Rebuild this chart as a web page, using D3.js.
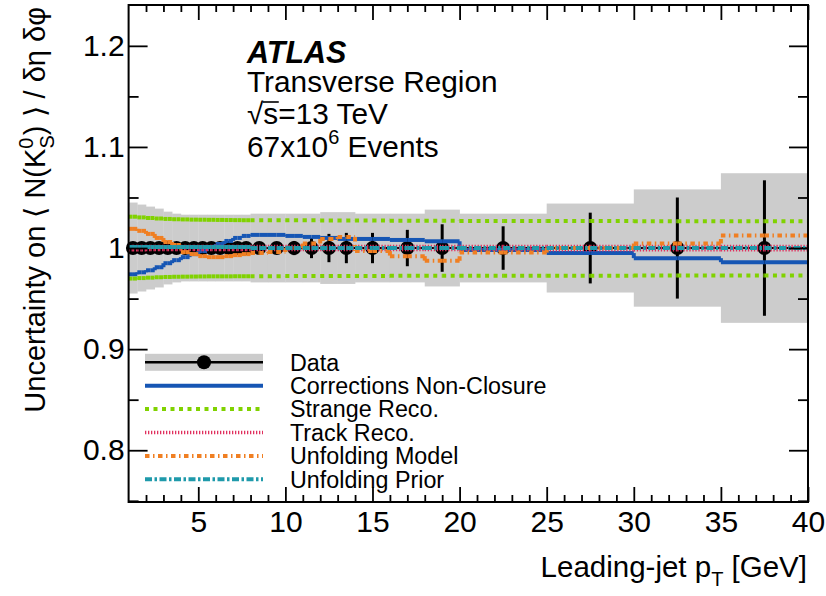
<!DOCTYPE html>
<html>
<head>
<meta charset="utf-8">
<script src="https://d3js.org/d3.v7.min.js"></script>
<style>
  html, body { margin: 0; padding: 0; background: #fff; }
  svg { display: block; }
  text { font-family: "Liberation Sans", Arial, Helvetica, sans-serif; fill: #000; }
</style>
</head>
<body>
<svg id="chart" width="826" height="596"></svg>
<script>
// ---------------- data ----------------
const binEdges = [1, 1.5, 2, 2.5, 3, 3.5, 4, 4.5, 5, 5.5, 6, 6.5, 7, 7.5, 8, 9, 10, 11, 12, 13, 14, 16, 18, 20, 25, 30, 35, 40];
const dataValues = [1, 1, 1, 1, 1, 1, 1, 1, 1, 1, 1, 1, 1, 1, 1, 1, 1, 1, 1, 1, 1, 1, 1, 1, 1, 1, 1];
const statErrors = [0.002, 0.002, 0.002, 0.002, 0.002, 0.002, 0.002, 0.002, 0.002, 0.002, 0.002, 0.002, 0.003, 0.003,
                    0.004, 0.005, 0.007, 0.010, 0.014, 0.015, 0.015, 0.018, 0.0235, 0.0215, 0.035, 0.050, 0.067];
const totalUncertainty = [0.045, 0.043, 0.041, 0.039, 0.036, 0.034, 0.033, 0.033, 0.033, 0.033, 0.033, 0.033, 0.033, 0.033,
                          0.034, 0.034, 0.034, 0.034, 0.0355, 0.0355, 0.034, 0.034, 0.038, 0.034, 0.044, 0.058, 0.074];
const correctionsNonClosure = [0.974, 0.976, 0.978, 0.981, 0.985, 0.988, 0.991, 0.994, 0.997, 1.001, 1.004, 1.007, 1.010, 1.012,
                               1.013, 1.013, 1.012, 1.011, 1.010, 1.009, 1.009, 1.008, 1.0067, 0.998, 0.995, 0.990, 0.986];
const strangeRecoUp = [1.031, 1.0303, 1.0297, 1.0292, 1.0288, 1.0285, 1.0283, 1.0281, 1.028, 1.0279, 1.0278, 1.0277, 1.0276, 1.0275,
                       1.0275, 1.0275, 1.0274, 1.0274, 1.0273, 1.0273, 1.0272, 1.0271, 1.027, 1.0268, 1.0267, 1.0266, 1.0265];
const strangeRecoDown = [0.9698, 0.9703, 0.9707, 0.9711, 0.9714, 0.9716, 0.9717, 0.9718, 0.9719, 0.972, 0.972, 0.972, 0.9721, 0.9721,
                         0.9722, 0.9722, 0.9723, 0.9723, 0.9723, 0.9724, 0.9724, 0.9725, 0.9725, 0.9726, 0.9727, 0.9728, 0.9729];
const trackRecoUp = [1.0016, 1.0016, 1.0015, 1.0015, 1.0015, 1.0015, 1.0015, 1.0015, 1.0015, 1.0015, 1.0015, 1.0015, 1.0015, 1.0015,
                     1.0015, 1.0015, 1.0015, 1.0015, 1.0015, 1.0015, 1.0015, 1.0015, 1.0015, 1.0015, 1.0016, 1.0016, 1.0016];
const trackRecoDown = [0.9984, 0.9984, 0.9985, 0.9985, 0.9985, 0.9985, 0.9985, 0.9985, 0.9985, 0.9985, 0.9985, 0.9985, 0.9985, 0.9985,
                       0.9985, 0.9985, 0.9985, 0.9985, 0.9985, 0.9985, 0.9985, 0.9985, 0.9985, 0.9985, 0.9984, 0.9984, 0.9984];
const unfoldingModel = [1.019, 1.017, 1.014, 1.010, 1.006, 1.003, 0.996, 0.994, 0.992, 0.991, 0.991, 0.992, 0.993, 0.994,
                        0.995, 0.996, 1.000, 1.0045, 1.009, 1.011, 0.997, 0.992, 0.9875, 0.9955, 1.000, 1.0045, 1.0125];
const unfoldingPrior = [1.001, 1.001, 1.001, 1.001, 1.001, 1.001, 1.001, 1.001, 1.001, 1.001, 1.001, 1.001, 1.001, 1.001,
                        1.000, 1.000, 1.000, 1.000, 1.000, 1.000, 1.000, 1.000, 1.000, 1.000, 1.000, 1.000, 1.000];

const xMajorTicks = [5, 10, 15, 20, 25, 30, 35, 40];
const xMinorTicks = [2, 3, 4, 6, 7, 8, 9, 11, 12, 13, 14, 16, 17, 18, 19, 21, 22, 23, 24, 26, 27, 28, 29, 31, 32, 33, 34, 36, 37, 38, 39];
const yMajorTicks = [0.8, 0.9, 1.0, 1.1, 1.2];
const yMinorTicks = [0.75, 0.85, 0.95, 1.05, 1.15];
const yTickLabels = ["0.8", "0.9", "1", "1.1", "1.2"];

const legendLabels = ["Data", "Corrections Non-Closure", "Strange Reco.", "Track Reco.", "Unfolding Model", "Unfolding Prior"];

// ---------------- layout ----------------
const svg = d3.select("#chart");
const L = 128.6, R = 808, T = 5, B = 502;
const x = d3.scaleLinear().domain([1, 40]).range([L, R]);
const y = d3.scaleLinear().domain([0.7488, 1.2404]).range([B, T]);

const COL = {
  band: "#cccccc",
  blue: "#1656b4",
  green: "#80d200",
  crimson: "#e0305e",
  orange: "#f07f22",
  teal: "#1f9aab"
};

const styles = {
  blue:    { stroke: COL.blue,    width: 4, dash: null },
  green:   { stroke: COL.green,   width: 4, dash: "4,4.5" },
  crimson: { stroke: COL.crimson, width: 3.5, dash: "1.3,1.7" },
  orange:  { stroke: COL.orange,  width: 4, dash: "4.5,3.5,1.5,3.5" },
  teal:    { stroke: COL.teal,    width: 4, dash: "7,2.5,2.5,2.5" }
};

const bins = dataValues.map((v, i) => ({
  lo: binEdges[i], hi: binEdges[i + 1], c: (binEdges[i] + binEdges[i + 1]) / 2,
  v: v, stat: statErrors[i], tot: totalUncertainty[i]
}));

const plot = svg.append("g");

// grey total-uncertainty band
plot.selectAll("rect.band").data(bins).join("rect")
  .attr("class", "band")
  .attr("x", d => x(d.lo))
  .attr("width", d => x(d.hi) - x(d.lo) + 0.3)
  .attr("y", d => y(d.v + d.tot))
  .attr("height", d => y(d.v - d.tot) - y(d.v + d.tot))
  .attr("fill", COL.band);

// data: horizontal + vertical error bars and markers
const dataG = plot.append("g");
dataG.selectAll("line.xerr").data(bins).join("line")
  .attr("x1", d => x(d.lo)).attr("x2", d => x(d.hi))
  .attr("y1", d => y(d.v)).attr("y2", d => y(d.v))
  .attr("stroke", "#000").attr("stroke-width", 2);
dataG.selectAll("line.yerr").data(bins).join("line")
  .attr("x1", d => x(d.c)).attr("x2", d => x(d.c))
  .attr("y1", d => y(d.v + d.stat)).attr("y2", d => y(d.v - d.stat))
  .attr("stroke", "#000").attr("stroke-width", 3);
dataG.selectAll("circle").data(bins).join("circle")
  .attr("cx", d => x(d.c)).attr("cy", d => y(d.v)).attr("r", 7)
  .attr("fill", "#000");

// step lines, split into half-bin segments so the dash pattern restarts like the original
const lineGen = d3.line().x(p => x(p[0])).y(p => y(p[1]));
function drawStep(values, st) {
  const segs = [];
  values.forEach((v, i) => {
    const lo = binEdges[i], hi = binEdges[i + 1], c = (lo + hi) / 2;
    segs.push([[lo, v], [c, v]]);
    segs.push([[c, v], [hi, v]]);
    if (i < values.length - 1) segs.push([[hi, v], [hi, values[i + 1]]]);
  });
  plot.append("g").selectAll("path").data(segs).join("path")
    .attr("d", lineGen)
    .attr("fill", "none")
    .attr("stroke", st.stroke)
    .attr("stroke-width", st.width)
    .attr("stroke-dasharray", st.dash);
}
drawStep(correctionsNonClosure, styles.blue);
drawStep(strangeRecoUp, styles.green);
drawStep(strangeRecoDown, styles.green);
drawStep(trackRecoUp, styles.crimson);
drawStep(trackRecoDown, styles.crimson);
drawStep(unfoldingModel, styles.orange);
drawStep(unfoldingPrior, styles.teal);

// ---------------- axes ----------------
function styleAxis(g) {
  g.select(".domain").remove();
  g.selectAll(".tick line").attr("stroke", "#000").attr("stroke-width", 1.8);
  g.selectAll(".tick text").attr("font-size", 30).attr("fill", "#000")
    .attr("font-family", "'Liberation Sans', Arial, Helvetica, sans-serif");
}
svg.append("g").attr("transform", `translate(0,${B})`)
  .call(d3.axisBottom(x).tickValues(xMajorTicks).tickSizeInner(-15).tickSizeOuter(0).tickPadding(9).tickFormat(d3.format("d")))
  .call(styleAxis);
svg.append("g").attr("transform", `translate(0,${B})`)
  .call(d3.axisBottom(x).tickValues(xMinorTicks).tickSizeInner(-7).tickSizeOuter(0).tickFormat(""))
  .call(styleAxis);
svg.append("g").attr("transform", `translate(0,${T})`)
  .call(d3.axisTop(x).tickValues(xMajorTicks).tickSizeInner(-15).tickSizeOuter(0).tickFormat(""))
  .call(styleAxis);
svg.append("g").attr("transform", `translate(0,${T})`)
  .call(d3.axisTop(x).tickValues(xMinorTicks).tickSizeInner(-7).tickSizeOuter(0).tickFormat(""))
  .call(styleAxis);
svg.append("g").attr("transform", `translate(${L},0)`)
  .call(d3.axisLeft(y).tickValues(yMajorTicks).tickSizeInner(-19).tickSizeOuter(0).tickPadding(4)
        .tickFormat((d, i) => yTickLabels[i]))
  .call(styleAxis);
svg.append("g").attr("transform", `translate(${L},0)`)
  .call(d3.axisLeft(y).tickValues(yMinorTicks).tickSizeInner(-10).tickSizeOuter(0).tickFormat(""))
  .call(styleAxis);
svg.append("g").attr("transform", `translate(${R},0)`)
  .call(d3.axisRight(y).tickValues(yMajorTicks).tickSizeInner(-19).tickSizeOuter(0).tickFormat(""))
  .call(styleAxis);
svg.append("g").attr("transform", `translate(${R},0)`)
  .call(d3.axisRight(y).tickValues(yMinorTicks).tickSizeInner(-10).tickSizeOuter(0).tickFormat(""))
  .call(styleAxis);

// frame
svg.append("rect").attr("x", L).attr("y", T).attr("width", R - L).attr("height", B - T)
  .attr("fill", "none").attr("stroke", "#000").attr("stroke-width", 2);

// ---------------- texts ----------------
svg.append("text").attr("x", 247).attr("y", 63).attr("font-size", 30.5)
  .attr("font-weight", "bold").attr("font-style", "italic").text("ATLAS");
svg.append("text").attr("x", 247).attr("y", 92).attr("font-size", 29.8).text("Transverse Region");
const t3 = svg.append("text").attr("x", 247).attr("y", 123.5).attr("font-size", 29.8);
t3.append("tspan").text("√");
t3.append("tspan").text("s");
t3.append("tspan").text("=13 TeV");
// overline over the "s" of √s, placed from the measured glyph box
{
  const ext = t3.node().getExtentOfChar(1);
  const top = t3.node().getExtentOfChar(0);
  svg.append("line")
    .attr("x1", ext.x - 0.5).attr("x2", ext.x + ext.width + 0.5)
    .attr("y1", top.y + 5.5).attr("y2", top.y + 5.5)
    .attr("stroke", "#000").attr("stroke-width", 1.6);
}
const t4 = svg.append("text").attr("x", 247).attr("y", 157).attr("font-size", 29.8);
t4.append("tspan").text("67x10");
t4.append("tspan").attr("font-size", 20).attr("dy", -13).text("6");
t4.append("tspan").attr("dy", 13).text(" Events");

// x title
const xt = svg.append("text").attr("x", 807).attr("y", 577).attr("font-size", 29.5).attr("text-anchor", "end");
xt.append("tspan").text("Leading-jet p");
xt.append("tspan").attr("font-size", 20).attr("dy", 9).text("T");
xt.append("tspan").attr("dy", -9).text(" [GeV]");

// y title
const yt = svg.append("text").attr("transform", "translate(45,7) rotate(-90)")
  .attr("font-size", 29).attr("text-anchor", "end");
yt.append("tspan").text("Uncertainty on ⟨ N(K");
yt.append("tspan").attr("font-size", 20).attr("dy", -12).text("0");
yt.append("tspan").attr("font-size", 20).attr("dx", -11).attr("dy", 21).text("S");
yt.append("tspan").attr("dy", -9).text(") ⟩ / δη δφ");

// ---------------- legend ----------------
const legY0 = 362.3, legDy = 23.4, legX0 = 145, legX1 = 263, legTx = 290;
const leg = svg.append("g");
// Data entry
leg.append("rect").attr("x", legX0).attr("y", legY0 - 8.5).attr("width", legX1 - legX0).attr("height", 17).attr("fill", COL.band);
leg.append("line").attr("x1", legX0).attr("x2", legX1).attr("y1", legY0).attr("y2", legY0)
  .attr("stroke", "#000").attr("stroke-width", 2.5);
leg.append("circle").attr("cx", (legX0 + legX1) / 2).attr("cy", legY0).attr("r", 7).attr("fill", "#000");
const legStyles = [null, styles.blue, styles.green, styles.crimson, styles.orange, styles.teal];
legendLabels.forEach((lab, i) => {
  const cy = legY0 + i * legDy;
  if (legStyles[i]) {
    leg.append("line").attr("x1", legX0).attr("x2", legX1).attr("y1", cy).attr("y2", cy)
      .attr("stroke", legStyles[i].stroke).attr("stroke-width", legStyles[i].width)
      .attr("stroke-dasharray", legStyles[i].dash);
  }
  leg.append("text").attr("x", legTx).attr("y", cy + 8.3).attr("font-size", 23.3).text(lab);
});
</script>
</body>
</html>
